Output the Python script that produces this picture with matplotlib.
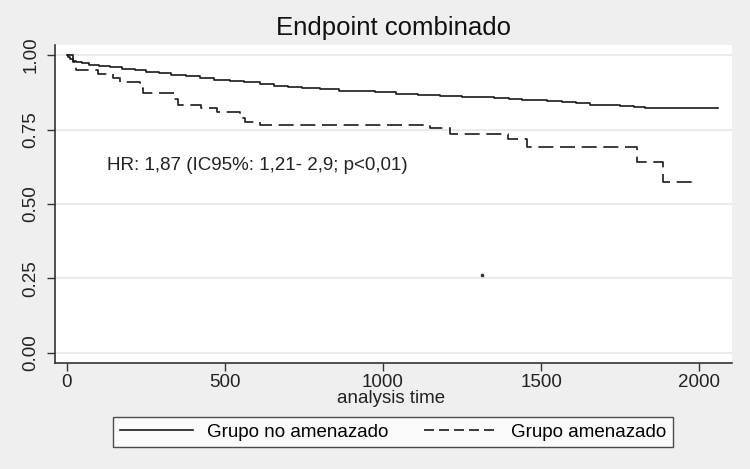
import numpy as np
import matplotlib
matplotlib.use("Agg")
import matplotlib.pyplot as plt
from matplotlib.lines import Line2D

plt.rcParams['font.family'] = ['Liberation Sans', 'DejaVu Sans']

# Kaplan-Meier step points
t_no_amen = [0, 4, 10, 18, 30, 48, 70, 100, 135, 175, 215, 250, 290, 330, 375,
             420, 465, 515, 560, 610, 655, 700, 745, 800, 860, 920, 975, 1040,
             1110, 1180, 1250, 1300, 1350, 1400, 1440, 1475, 1520, 1565, 1610,
             1655, 1700, 1750, 1795, 1830, 2060]
s_no_amen = [1.0, 0.993, 0.987, 0.982, 0.977, 0.972, 0.968, 0.964, 0.959, 0.954,
             0.949, 0.944, 0.939, 0.934, 0.929, 0.924, 0.918, 0.913, 0.909, 0.904,
             0.898, 0.894, 0.889, 0.885, 0.881, 0.878, 0.875, 0.871, 0.867, 0.864,
             0.861, 0.858, 0.856, 0.853, 0.851, 0.849, 0.846, 0.843, 0.839, 0.834,
             0.831, 0.828, 0.825, 0.822, 0.822]

t_amen = [0, 19, 28, 98, 146, 168, 231, 240, 342, 351, 424, 475, 547, 563, 611,
          1149, 1212, 1396, 1456, 1804, 1886, 1978]
s_amen = [1.0, 0.977, 0.950, 0.936, 0.923, 0.909, 0.889, 0.872, 0.852, 0.832,
          0.822, 0.809, 0.789, 0.775, 0.765, 0.755, 0.735, 0.718, 0.691, 0.641,
          0.574, 0.574]

stray_t = [1313]
stray_s = [0.262]

y_ticks = [0.0, 0.25, 0.5, 0.75, 1.0]
x_ticks = [0, 500, 1000, 1500, 2000]
labels = ["Grupo no amenazado", "Grupo amenazado"]
hr_text = "HR: 1,87 (IC95%: 1,21- 2,9; p<0,01)"

bg = '#efefef'
fig = plt.figure(figsize=(7.5, 4.69), dpi=100, facecolor=bg)
ax = fig.add_axes([0.0733, 0.226, 0.9027, 0.678])
ax.set_facecolor('white')

for yt in y_ticks:
    ax.axhline(yt, color='#e8e8e8', lw=1.2, zorder=0)

ax.step(t_no_amen, s_no_amen, where='post', color='#1a1a1a', lw=1.2)
ax.step(t_amen, s_amen, where='post', color='#1a1a1a', lw=1.2,
        linestyle=(0, (9, 4)))
ax.plot(stray_t, stray_s, 's', color='#333333', ms=1.5)

ax.text(127, 0.631, hr_text, fontsize=13.5, color='#222222', va='center')

ax.set_xlim(-38, 2104)
ax.set_ylim(-0.034, 1.034)
ax.set_xticks(x_ticks)
ax.set_yticks(y_ticks)
ax.set_yticklabels([f"{v:.2f}" for v in y_ticks], rotation=90, va='center')
ax.tick_params(axis='both', direction='out', length=6, width=1, color='#333333',
               labelsize=13.5, labelcolor='#222222')
ax.tick_params(axis='y', pad=5)
ax.tick_params(axis='x', pad=2)

for side in ['top', 'right']:
    ax.spines[side].set_visible(False)
for side in ['left', 'bottom']:
    ax.spines[side].set_color('#333333')
    ax.spines[side].set_linewidth(1.2)

fig.text(0.525, 0.94, "Endpoint combinado", fontsize=18.5, ha='center',
         va='center', color='#111111')
fig.text(0.522, 0.151, "analysis time", fontsize=13.5, ha='center',
         va='center', color='#222222')

# legend handles with shorter dashes, like the stata legend
h1 = Line2D([], [], color='#1a1a1a', lw=1.2)
h2 = Line2D([], [], color='#1a1a1a', lw=1.2, linestyle=(0, (6, 3)))
leg = fig.legend([h1, h2], labels, loc='center', bbox_to_anchor=(0.524, 0.079),
                 ncol=2, frameon=True, fancybox=False, fontsize=13.5,
                 handlelength=3.9, columnspacing=1.9, handletextpad=0.75,
                 borderpad=0.35)
leg.get_frame().set_edgecolor('#222222')
leg.get_frame().set_linewidth(1.0)
leg.get_frame().set_facecolor('white')

fig.savefig("out.png", dpi=100, facecolor=bg)
